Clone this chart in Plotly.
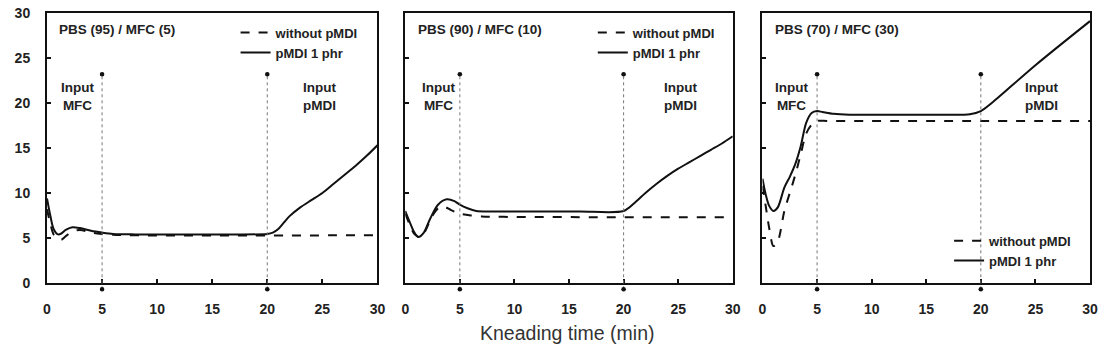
import plotly.graph_objects as go

# ---------------- data ----------------
panel_titles = ["PBS (95) / MFC (5)", "PBS (90) / MFC (10)", "PBS (70) / MFC (30)"]
series_names = ["without pMDI", "pMDI 1 phr"]

t1_dash = [0, 0.3, 0.6, 1.0, 1.3, 1.7, 2.3, 3, 4, 5, 6, 8, 30]
v1_dash = [8.2, 6.6, 5.4, 4.9, 4.8, 5.2, 5.7, 5.9, 5.6, 5.45, 5.35, 5.3, 5.3]
t1_solid = [0, 0.3, 0.6, 1.0, 1.3, 1.7, 2.3, 3, 4, 5, 6, 8, 12, 16, 20, 20.5, 21, 21.5, 22, 23, 24, 25, 26, 27, 28, 29, 30]
v1_solid = [9.4, 7.5, 6.0, 5.4, 5.5, 5.9, 6.2, 6.1, 5.8, 5.6, 5.45, 5.4, 5.4, 5.4, 5.45, 5.6, 6.0, 6.7, 7.4, 8.4, 9.2, 10.0, 11.0, 12.0, 13.0, 14.1, 15.3]

t2_dash = [0, 0.4, 0.8, 1.3, 1.8, 2.4, 3, 3.5, 4.2, 5, 6, 7, 9, 29.2]
v2_dash = [7.7, 6.5, 5.5, 5.1, 5.7, 7.3, 8.3, 8.5, 8.1, 7.7, 7.5, 7.4, 7.35, 7.3]
t2_solid = [0, 0.4, 0.8, 1.2, 1.7, 2.3, 3, 3.8, 4.5, 5, 5.7, 6.5, 8, 12, 16, 20, 21, 22, 23, 24, 25, 26, 27, 28, 29, 30]
v2_solid = [8.0, 6.8, 5.7, 5.1, 5.6, 7.2, 8.7, 9.3, 9.1, 8.7, 8.3, 8.0, 7.95, 7.95, 7.95, 8.0, 8.9, 10.0, 11.0, 11.9, 12.7, 13.4, 14.1, 14.8, 15.5, 16.3]

t3_dash = [0, 0.3, 0.6, 1.0, 1.4, 2.0, 2.5, 3.0, 3.5, 4.0, 4.5, 5, 6, 30]
v3_dash = [10.8, 8.5, 6.2, 4.1, 4.6, 8.0, 10.0, 12.0, 14.3, 16.6, 17.6, 18.0, 18.0, 18.0]
t3_solid = [0, 0.3, 0.6, 1.0, 1.4, 2.0, 2.5, 3.0, 3.5, 4.0, 4.5, 5, 5.5, 6.5, 8, 12, 16, 19, 20, 21, 25, 30]
v3_solid = [11.6, 9.8, 8.6, 8.0, 8.4, 10.6, 11.8, 13.2, 15.2, 17.8, 18.9, 19.1, 19.0, 18.8, 18.7, 18.7, 18.7, 18.75, 19.1, 20.0, 24.2, 29.1]

event_times = [5, 20]
event_labels = ["Input<br>MFC", "Input<br>pMDI"]
event_label_x = [[2.8, 24.7], [3.0, 25.2], [2.7, 25.6]]
event_label_y = 20.7
event_line_span = [-0.7, 23.2]

x_ticks = [0, 5, 10, 15, 20, 25, 30]
y_ticks = [0, 5, 10, 15, 20, 25, 30]
y_range = [0, 30]
x_title = "Kneading time (min)"

panels = [
    (t1_dash, v1_dash, t1_solid, v1_solid),
    (t2_dash, v2_dash, t2_solid, v2_solid),
    (t3_dash, v3_dash, t3_solid, v3_solid),
]

# ---------------- layout helpers ----------------
FONT = "Liberation Sans, Arial, sans-serif"
domains = [[0.0, 0.3168], [0.3435, 0.6575], [0.686, 1.0]]
legend_pos = [(0.1808, 0.983), (0.5233, 0.983), (0.8649, 0.212)]

def frac(v):
    return (v - y_range[0]) / (y_range[1] - y_range[0])

fig = go.Figure()
legend_ids = ["legend", "legend2", "legend3"]

for i, (td, vd, ts, vs) in enumerate(panels):
    xa = "x" if i == 0 else f"x{i+1}"
    ya = "y" if i == 0 else f"y{i+1}"
    lg = legend_ids[i]
    fig.add_trace(go.Scatter(
        x=td, y=vd, mode="lines", name=series_names[0], xaxis=xa, yaxis=ya,
        line=dict(color="#111111", width=2, dash="dash", shape="spline", smoothing=0.8),
        legend=lg,
    ))
    fig.add_trace(go.Scatter(
        x=ts, y=vs, mode="lines", name=series_names[1], xaxis=xa, yaxis=ya,
        line=dict(color="#111111", width=2, shape="spline", smoothing=0.8),
        legend=lg,
    ))
    for et in event_times:
        fig.add_shape(type="line", xref=xa, yref=f"{ya} domain", x0=et, x1=et,
                      y0=frac(event_line_span[0]), y1=frac(event_line_span[1]),
                      line=dict(color="#777777", width=1, dash="dot"))
        for ev in event_line_span:
            fig.add_shape(type="circle", xref=xa, yref=f"{ya} domain",
                          xsizemode="pixel", ysizemode="pixel",
                          xanchor=et, yanchor=frac(ev),
                          x0=-2.3, x1=2.3, y0=-2.3, y1=2.3,
                          fillcolor="#111111", line=dict(width=0))
    for lab, lx in zip(event_labels, event_label_x[i]):
        fig.add_annotation(x=lx, y=event_label_y, xref=xa, yref=ya, text=lab,
                           showarrow=False, align="center",
                           font=dict(family=FONT, size=13.5, color="#222222", weight="bold"))
    fig.add_annotation(x=1.0 if i else 0.9, y=28.2, xref=xa, yref=ya, text=panel_titles[i],
                       showarrow=False, xanchor="left",
                       font=dict(family=FONT, size=13.5, color="#222222", weight="bold"))

axis_common = dict(
    range=y_range, showline=True, linecolor="#111111", linewidth=2, mirror=True,
    ticks="inside", ticklen=4, tickwidth=1.5, tickcolor="#111111",
    showgrid=False, zeroline=False, fixedrange=True,
    tickfont=dict(family=FONT, size=14, color="#222222", weight="bold"),
)

layout = dict(
    width=1103, height=345,
    margin=dict(l=47, r=5, t=13, b=62),
    plot_bgcolor="white", paper_bgcolor="white",
    showlegend=True,
)
for i in range(3):
    xk = "xaxis" if i == 0 else f"xaxis{i+1}"
    yk = "yaxis" if i == 0 else f"yaxis{i+1}"
    layout[xk] = dict(axis_common, domain=domains[i], tickvals=x_ticks, range=[0, 30],
                      ticklabelstandoff=12, anchor="y" if i == 0 else f"y{i+1}")
    layout[yk] = dict(axis_common, domain=[0, 1], tickvals=y_ticks,
                      showticklabels=(i == 0), ticklabelstandoff=12,
                      anchor="x" if i == 0 else f"x{i+1}")
    lx, ly = legend_pos[i]
    layout[legend_ids[i]] = dict(
        x=lx, y=ly, xanchor="left", yanchor="top", bgcolor="rgba(0,0,0,0)",
        font=dict(family=FONT, size=13, color="#222222", weight="bold"),
        tracegroupgap=0, itemwidth=30,
    )

fig.update_layout(**layout)
fig.add_annotation(x=0.4995, y=-0.231, xref="paper", yref="paper", text=x_title,
                   showarrow=False, yanchor="bottom", borderpad=0,
                   font=dict(family=FONT, size=19.5, color="#333333"))

fig.write_html("out.html")
